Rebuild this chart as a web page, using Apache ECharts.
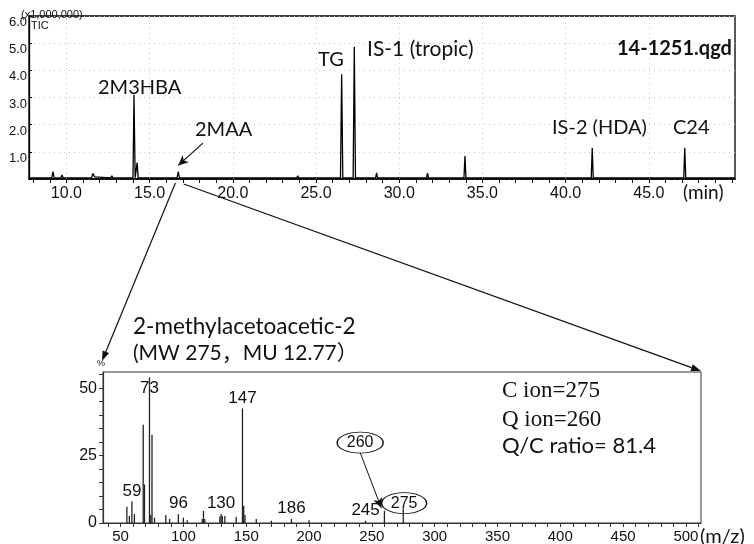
<!DOCTYPE html>
<html><head><meta charset="utf-8">
<script src="https://cdn.jsdelivr.net/npm/echarts@6/dist/echarts.min.js"></script>
<style>html,body{margin:0;padding:0;background:#fff}#c{width:754px;height:544px}</style>
</head><body><div id="c"></div>
<script>
// ---- TIC chromatogram: retention time (min) and intensity (x1,000,000)
const ticTime = [7.75, 9.12, 9.19, 9.26, 9.66, 9.73, 9.8, 11.5, 11.6, 11.68, 11.8, 12.66, 12.73, 12.8,
  14.0, 14.06, 14.13, 14.19, 14.25, 14.31, 16.65, 16.72, 16.79, 17.95, 18.0, 18.05,
  23.84, 23.9, 23.96, 25.84, 25.9, 25.96, 26.47, 26.54, 26.61, 27.23, 27.3, 27.37,
  28.58, 28.64, 28.7, 29.05, 29.1, 29.15, 31.64, 31.7, 31.76, 33.89, 33.95, 34.01,
  34.2, 34.25, 34.3, 41.54, 41.6, 41.66, 43.55, 43.6, 43.65, 47.1, 47.16, 47.22, 50.18];
const ticValue = [0.04, 0.04, 0.27, 0.04, 0.04, 0.15, 0.04, 0.05, 0.2, 0.08, 0.04, 0.04, 0.12, 0.04,
  0.04, 3.1, 0.05, 0.05, 0.6, 0.04, 0.04, 0.27, 0.04, 0.04, 0.08, 0.04,
  0.04, 0.12, 0.04, 0.04, 0.1, 0.04, 0.04, 3.86, 0.04, 0.04, 4.87, 0.04,
  0.04, 0.23, 0.04, 0.04, 0.1, 0.04, 0.04, 0.22, 0.04, 0.04, 0.85, 0.04,
  0.04, 0.08, 0.04, 0.04, 1.14, 0.04, 0.04, 0.06, 0.04, 0.04, 1.14, 0.04, 0.04];
const rtTickLabels = [10, 15, 20, 25, 30, 35, 40, 45];
const ticYTickLabels = [1, 2, 3, 4, 5, 6];

// ---- Mass spectrum of 2-methylacetoacetic-2 (m/z, relative intensity %)
const msMz = [55, 57, 59, 61, 68, 69, 73, 74, 75, 77, 86, 89, 96, 100, 103, 115, 116, 117,
  129, 130, 131, 133, 142, 147, 148, 149, 158, 170, 186, 200, 245, 260, 275];
const msIntensity = [6.0, 2.6, 8.0, 3.3, 36.4, 14.3, 54, 3.0, 32.7, 2.0, 3.0, 1.5, 3.3, 2.0, 1.0, 1.5, 4.5, 1.5,
  2.4, 3.3, 2.6, 2.6, 2.2, 42.5, 6.4, 3.0, 1.5, 0.8, 1.5, 1.0, 0.8, 4.5, 5.5];
const msLabeled = [59, 73, 96, 130, 147, 186, 245];
const mzTickLabels = [50, 100, 150, 200, 250, 300, 350, 400, 450, 500];
const msYTickLabels = [0, 25, 50];

const NARROW = "'Liberation Sans Narrow','Liberation Sans',Arial,sans-serif";
const SANS = "Lato,'Noto Sans','Noto Sans CJK JP',sans-serif";

const rtMinorTicks = []; for (let t = 8; t <= 50; t++) rtMinorTicks.push(t);
const mzMinorTicks = []; for (let m = 40; m <= 510; m += 10) mzMinorTicks.push(m);
const msYMinorTicks = []; for (let v = 0; v <= 55; v += 5) msYMinorTicks.push(v);

const chart = echarts.init(document.getElementById('c'), null, {renderer: 'canvas'});

const msData = msMz.map((m, i) => {
  const item = {value: [m, msIntensity[i]]};
  if (msLabeled.indexOf(m) >= 0) {
    item.label = {show: true, formatter: String(m)};
    if (m === 73) item.label.position = 'insideTop';
  }
  return item;
});

function txt(text, x, y, font, extra) {
  return Object.assign({type: 'text', x: x, y: y, silent: true, z: 50,
    style: Object.assign({text: text, font: font, fill: '#111', align: 'left', verticalAlign: 'middle',
      textAlign: 'left', textVerticalAlign: 'middle'}, extra || {})});
}

const option = {
  animation: false,
  backgroundColor: '#fff',
  grid: [
    {left: 29, top: 16, width: 706, height: 163, show: true, borderColor: '#000', borderWidth: 1.3},
    {left: 103, top: 372, width: 598, height: 152, show: true, borderColor: '#333', borderWidth: 1}
  ],
  xAxis: [
    {gridIndex: 0, type: 'value', min: 7.75, max: 50.18,
      axisLine: {lineStyle: {color: '#000', width: 1.6}},
      axisTick: {show: true, customValues: rtMinorTicks, length: 4, inside: false, lineStyle: {color: '#000'}},
      axisLabel: {customValues: rtTickLabels, formatter: v => v.toFixed(1), color: '#111',
        fontFamily: NARROW, fontSize: 16, margin: 7},
      splitLine: {show: false}},
    {gridIndex: 1, type: 'value', min: 36, max: 512,
      axisLine: {lineStyle: {color: '#333', width: 1.2}},
      axisTick: {show: true, customValues: mzMinorTicks, length: 4, lineStyle: {color: '#333'}},
      axisLabel: {customValues: mzTickLabels, color: '#111', fontFamily: NARROW, fontSize: 15, margin: 6},
      splitLine: {show: false}}
  ],
  yAxis: [
    {gridIndex: 0, type: 'value', min: 0, max: 6,
      axisLine: {show: true, lineStyle: {color: '#000', width: 1.3}},
      axisTick: {show: true, customValues: [0, 1, 2, 3, 4, 5, 6], inside: true, length: 3, lineStyle: {color: '#000'}},
      axisLabel: {customValues: ticYTickLabels, formatter: v => v.toFixed(1), color: '#111',
        fontFamily: "'Liberation Sans',Arial,sans-serif", fontSize: 13, margin: 2, verticalAlign: 'top'},
      splitLine: {show: true, lineStyle: {color: '#c4c4c4', type: [1, 4], width: 1}}},
    {gridIndex: 1, type: 'value', min: 0, max: 56,
      axisLine: {show: true, lineStyle: {color: '#333', width: 1.2}},
      axisTick: {show: true, customValues: msYMinorTicks, length: 4, lineStyle: {color: '#333'}},
      axisLabel: {customValues: msYTickLabels, color: '#111', fontFamily: NARROW, fontSize: 16, margin: 6},
      splitLine: {show: false}}
  ],
  series: [
    {type: 'line', xAxisIndex: 0, yAxisIndex: 0, data: ticTime.map((t, i) => [t, ticValue[i]]),
      showSymbol: false, symbol: 'none', lineStyle: {color: '#000', width: 1.3}, z: 5,
      markLine: {silent: true, symbol: ['none', 'none'], label: {show: false},
        lineStyle: {color: '#c4c4c4', type: [1, 4], width: 1},
        data: rtTickLabels.map(v => ({xAxis: v}))}},
    {type: 'line', xAxisIndex: 0, yAxisIndex: 0, data: [], symbol: 'none',
      markLine: {silent: true, symbol: ['none', 'arrow'], symbolSize: [7, 10], label: {show: false},
        lineStyle: {color: '#111', type: 'solid', width: 1.2},
        data: [[{coord: [18.2, 1.32]}, {coord: [16.72, 0.5]}]]}},
    {type: 'bar', xAxisIndex: 1, yAxisIndex: 1, data: msData, barWidth: 1.3,
      itemStyle: {color: '#222'},
      label: {show: false, position: 'top', distance: 2, color: '#111', fontFamily: NARROW, fontSize: 17},
      markPoint: {silent: true, symbol: 'circle',
        itemStyle: {color: 'rgba(255,255,255,0)', borderColor: '#111', borderWidth: 1},
        label: {show: true, color: '#111', fontFamily: NARROW, fontSize: 16, position: 'inside'},
        data: [
          {coord: [240.7, 29.8], symbolSize: [46, 21], value: '260'},
          {coord: [275.7, 7.35], symbolSize: [45, 21], value: '275'}
        ]},
      markLine: {silent: true, symbol: ['none', 'arrow'], symbolSize: [7, 10], label: {show: false},
        lineStyle: {color: '#111', type: 'solid', width: 1},
        data: [[{coord: [240.7, 26.1]}, {coord: [257.5, 5.6]}]]}}
  ],
  graphic: []
};
chart.setOption(option);

// annotation texts
const texts = [
  txt('(x1,000,000)', 21, 15, "11px 'Liberation Sans',Arial,sans-serif"),
  txt('TIC', 31, 26, "11px 'Liberation Sans',Arial,sans-serif"),
  txt('2M3HBA', 98, 88, '20px ' + SANS),
  txt('2MAA', 195, 130, '20px ' + SANS),
  txt('TG', 318, 60, '20px ' + SANS),
  txt('IS-1 (tropic)', 367, 49, '21px ' + SANS),
  txt('14-1251.qgd', 617, 49, 'bold 20px ' + SANS),
  txt('IS-2 (HDA)', 552, 128, '20px ' + SANS),
  txt('C24', 673, 128, '20px ' + SANS),
  txt('(min)', 683, 193, '19px ' + SANS),
  txt('2-methylacetoacetic-2', 133, 327, '22.5px ' + SANS),
  txt('(MW 275\uFF0CMU 12.77\uFF09', 133, 353, '21px ' + SANS),
  txt('%', 97, 364, "9px 'Liberation Sans',Arial,sans-serif"),
  txt('C ion=275', 502, 391, "23px 'Liberation Serif','Times New Roman',serif"),
  txt('Q ion=260', 502, 420, "23px 'Liberation Serif','Times New Roman',serif"),
  txt('Q/C ratio= 81.4', 502, 446, '22px ' + SANS),
  txt('(m/z)', 700, 537, '20px ' + SANS)
];

function arrow(x1, y1, x2, y2) {
  const ang = Math.atan2(y2 - y1, x2 - x1);
  const L = 10, W = 3.5;
  const bx = x2 - L * Math.cos(ang), by = y2 - L * Math.sin(ang);
  const px = -Math.sin(ang) * W, py = Math.cos(ang) * W;
  return [
    {type: 'line', silent: true, z: 40, shape: {x1: x1, y1: y1, x2: bx, y2: by}, style: {stroke: '#111', lineWidth: 1.2}},
    {type: 'polygon', silent: true, z: 40, shape: {points: [[x2, y2], [bx + px, by + py], [bx - px, by - py]]}, style: {fill: '#111'}}
  ];
}

const s1 = chart.convertToPixel({gridIndex: 0}, [16.55, 0]);
const s2 = chart.convertToPixel({gridIndex: 0}, [17.05, 0]);
const e1 = chart.convertToPixel({gridIndex: 1}, [36, 56]);
const e2 = chart.convertToPixel({gridIndex: 1}, [512, 56]);
const arrows = arrow(s1[0], s1[1] + 4, e1[0] - 1, e1[1] - 11)
  .concat(arrow(s2[0], s2[1] + 5, e2[0], e2[1] - 1));

chart.setOption({graphic: texts.concat(arrows)});
</script></body></html>
